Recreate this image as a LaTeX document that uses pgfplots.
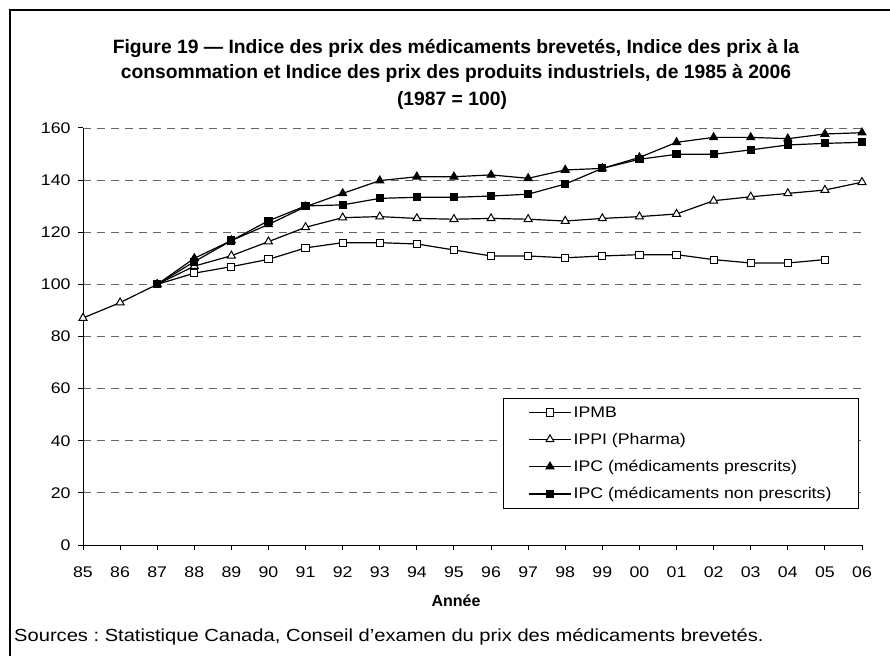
\documentclass[border=0pt]{standalone}
\usepackage{pgfplots}
\pgfplotsset{compat=1.18}
\usepackage{fontspec}
\setmainfont{Liberation Sans}[FakeStretch=1.15]
\newfontfamily\titlefont{Liberation Sans}
\frenchspacing
\begin{document}
\frenchspacing
\begin{tikzpicture}
\useasboundingbox (0pt,0pt) rectangle (890pt,656pt);
\draw[line width=1.5pt] (10pt,0pt) -- (10pt,646pt) -- (890pt,646pt);
\node[font=\titlefont\bfseries\fontsize{19.3}{23}\selectfont, anchor=base] at (456pt,602pt) {Figure 19 — Indice des prix des médicaments brevetés, Indice des prix à la};
\node[font=\titlefont\bfseries\fontsize{19.3}{23}\selectfont, anchor=base] at (456pt,577pt) {consommation et Indice des prix des produits industriels, de 1985 à 2006};
\node[font=\titlefont\bfseries\fontsize{19.3}{23}\selectfont, anchor=base] at (452pt,550pt) {(1987 = 100)};
\node[font=\titlefont\bfseries\fontsize{16}{18}\selectfont, anchor=base] at (456pt,50pt) {Année};
\node[font=\frenchspacing\fontsize{17.5}{20}\selectfont, anchor=base west, inner sep=0pt] at (14pt,15pt) {Sources : Statistique Canada, Conseil d’examen du prix des médicaments brevetés.};
\begin{axis}[
  at={(83pt,111pt)}, anchor=south west,
  width=779pt, height=417pt, scale only axis,
  xmin=0, xmax=21, ymin=0, ymax=160,
  axis x line=bottom, axis y line=left,
  axis line style={-, line width=1pt, black},
  tick align=outside, major tick length=5pt,
  tick style={black, line width=1pt},
  xtick={0,...,21},
  xticklabels={85,86,87,88,89,90,91,92,93,94,95,96,97,98,99,00,01,02,03,04,05,06},
  ytick={0,20,...,160},
  ymajorgrids,
  major grid style={dash pattern=on 8pt off 6pt, black!60, line width=0.8pt},
  /pgf/number format/assume math mode=true,
  ticklabel style={font=\fontsize{15.4}{18}\selectfont},
  xticklabel style={yshift=-13pt},
  yticklabel style={xshift=-4pt},
  clip=false,
  legend style={at={(rel axis cs:0.539,0.3525)}, anchor=north west, draw=black, line width=1pt,
    font=\fontsize{15.4}{18}\selectfont, row sep=10.5pt, inner xsep=25pt, inner ysep=6pt},
  legend cell align=left,
  legend image code/.code={\draw[mark repeat=2,mark phase=2,#1] plot coordinates {(0pt,0pt) (21pt,0pt) (42pt,0pt)};},
  every axis plot/.append style={black, line width=1.2pt},
]
\addplot[mark=square*, mark options={fill=white, line width=1pt}, mark size=3.6pt] coordinates {
(2,100) (3,104.3) (4,106.8) (5,109.6) (6,114.0) (7,116.0) (8,116.0) (9,115.5) (10,113.2) (11,110.9) (12,110.9) (13,110.2) (14,110.9) (15,111.4) (16,111.4) (17,109.5) (18,108.2) (19,108.2) (20,109.5)};
\addlegendentry{IPMB}
\addplot[mark=triangle*, mark options={fill=white, line width=1pt}, mark size=4.6pt] coordinates {
(0,87.1) (1,93.0) (2,100) (3,107.0) (4,111.0) (5,116.4) (6,121.9) (7,125.6) (8,126.0) (9,125.3) (10,125.0) (11,125.3) (12,125.0) (13,124.3) (14,125.3) (15,126.0) (16,127.0) (17,132.1) (18,133.6) (19,134.9) (20,136.2) (21,139.2)};
\addlegendentry{IPPI (Pharma)}
\addplot[mark=triangle*, mark options={fill=black, line width=1pt}, mark size=4.6pt] coordinates {
(2,100) (3,110.0) (4,116.8) (5,123.0) (6,129.8) (7,134.9) (8,139.8) (9,141.3) (10,141.3) (11,142.0) (12,140.7) (13,143.9) (14,144.5) (15,148.7) (16,154.5) (17,156.4) (18,156.4) (19,155.9) (20,157.7) (21,158.2)};
\addlegendentry{IPC (médicaments prescrits)}
\addplot[mark=square*, mark options={fill=black, line width=1pt}, mark size=3.6pt] coordinates {
(2,100) (3,108.7) (4,116.8) (5,124.4) (6,130.1) (7,130.5) (8,133.0) (9,133.4) (10,133.4) (11,133.9) (12,134.6) (13,138.5) (14,144.5) (15,148.0) (16,149.9) (17,149.9) (18,151.6) (19,153.5) (20,154.1) (21,154.5)};
\addlegendentry{IPC (médicaments non prescrits)}
\end{axis}
\end{tikzpicture}
\end{document}
